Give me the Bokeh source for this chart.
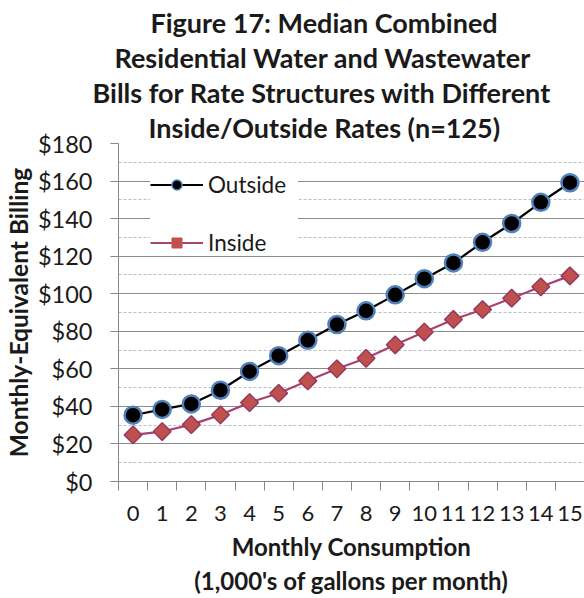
from bokeh.plotting import figure
from bokeh.models import Range1d, FixedTicker, Title, Legend, LegendItem, ColumnDataSource
from bokeh.embed import file_html
from bokeh.resources import INLINE
import numpy as np

# ---- data ----
consumption = list(range(16))
x_tick_labels = [str(c) for c in consumption]
outside = [35.3, 38.4, 41.3, 48.6, 58.6, 67.0, 75.2, 83.6, 90.9, 99.4, 108.0, 116.4, 127.4, 137.4, 148.7, 159.1]
inside = [24.8, 26.6, 30.3, 35.5, 42.0, 47.0, 53.6, 60.0, 65.6, 72.8, 79.6, 86.3, 91.6, 97.6, 103.7, 109.5]
y_ticks = [0, 20, 40, 60, 80, 100, 120, 140, 160, 180]
y_tick_labels = ["$0", "$20", "$40", "$60", "$80", "$100", "$120", "$140", "$160", "$180"]
y_minor = [10, 30, 50, 70, 90, 110, 130, 150, 170]
title_lines = ["Figure 17: Median Combined",
               "Residential Water and Wastewater",
               "Bills for Rate Structures with Different",
               "Inside/Outside Rates (n=125)"]
title_offsets = [32, -4, -26, 30]   # px from the frame's left edge (layout only)
series_names = ["Outside", "Inside"]

FONT = "Lato"

p = figure(width=584, height=598, output_backend="svg", toolbar_location=None,
           x_range=Range1d(-0.5, 15.5), y_range=Range1d(0, 180),
           min_border_left=116, min_border_right=0, min_border_top=143, min_border_bottom=112)
p.outline_line_color = None
p.background_fill_color = "white"

# axes
xa = p.xaxis[0]
xa.ticker = FixedTicker(ticks=consumption, minor_ticks=[c - 0.5 for c in consumption] + [15.5])
xa.major_label_overrides = {c: l for c, l in zip(consumption, x_tick_labels)}
xa.major_tick_line_color = None
xa.minor_tick_out = 9
xa.minor_tick_in = 0
xa.minor_tick_line_color = "#888888"
xa.axis_line_color = "#888888"
xa.major_label_text_font = FONT
xa.major_label_text_font_size = "22px"
xa.major_label_text_color = "#1a1a1a"
xa.major_label_standoff = 15
xa.axis_label = "Monthly Consumption\n(1,000's of gallons per month)"
xa.axis_label_text_font = FONT
xa.axis_label_text_font_style = "bold"
xa.axis_label_text_font_size = "24px"
xa.axis_label_text_color = "#1a1a1a"
xa.axis_label_standoff = 8
xa.axis_label_text_line_height = 1.2

ya = p.yaxis[0]
ya.ticker = FixedTicker(ticks=y_ticks, minor_ticks=y_minor)
ya.major_label_overrides = {t: l for t, l in zip(y_ticks, y_tick_labels)}
ya.major_tick_out = 8
ya.major_tick_in = 0
ya.major_tick_line_color = "#888888"
ya.minor_tick_line_color = None
ya.axis_line_color = "#888888"
ya.major_label_text_font = FONT
ya.major_label_text_font_size = "23.5px"
ya.major_label_text_color = "#1a1a1a"
ya.major_label_standoff = 18
ya.axis_label = "Monthly-Equivalent Billing"
ya.axis_label_text_font = FONT
ya.axis_label_text_font_style = "bold"
ya.axis_label_text_font_size = "24.5px"
ya.axis_label_text_color = "#1a1a1a"
ya.axis_label_standoff = 2

p.xgrid.grid_line_color = None
p.ygrid.grid_line_color = "#8c8c8c"
p.ygrid.grid_line_width = 1
p.ygrid.minor_grid_line_color = "#bdbdbd"
p.ygrid.minor_grid_line_dash = "3 2"

src = ColumnDataSource(dict(x=consumption, outside=outside, inside=inside))

p.line("x", "outside", source=src, line_color="black", line_width=2.2)
p.scatter("x", "outside", source=src, marker="circle", size=17,
          fill_color="black", line_color="#4f81bd", line_width=2.5)
p.line("x", "inside", source=src, line_color="#a8426e", line_width=2.2)
p.scatter("x", "inside", source=src, marker="square", angle=np.pi / 4, size=12.5,
          fill_color="#c0504d", line_color="#953a62", line_width=1.5)

# legend-only renderers (placeholder NaN, nothing drawn in the plot)
empty = ColumnDataSource(dict(x=[np.nan], y=[np.nan]))
lo1 = p.line("x", "y", source=empty, line_color="black", line_width=2.2)
lo2 = p.scatter("x", "y", source=empty, marker="circle", size=11,
                fill_color="black", line_color="#4f81bd", line_width=1.5)
li1 = p.line("x", "y", source=empty, line_color="#a8426e", line_width=2.2)
li2 = p.scatter("x", "y", source=empty, marker="square", angle=np.pi / 4, size=10,
                fill_color="#c0504d", line_color="#c0504d", line_width=1)

legend = Legend(items=[LegendItem(label=series_names[0], renderers=[lo1, lo2]),
                       LegendItem(label=series_names[1], renderers=[li1, li2])],
                location=(32, 225), orientation="vertical",
                glyph_width=53, glyph_height=25, label_height=25, label_width=90, spacing=31,
                padding=18, margin=0, label_standoff=5,
                label_text_font=FONT, label_text_font_size="22.5px", label_text_color="#1a1a1a",
                border_line_color=None, background_fill_color="white", background_fill_alpha=1.0)
p.add_layout(legend, "center")

# title, one Title per line (last line closest to the plot)
for line, off in reversed(list(zip(title_lines, title_offsets))):
    p.add_layout(Title(text=line, align="left", offset=off, text_font=FONT, text_font_style="bold",
                       text_font_size="27px", text_color="#1a1a1a", standoff=0), "above")

open("out.html", "w").write(file_html(p, INLINE))
